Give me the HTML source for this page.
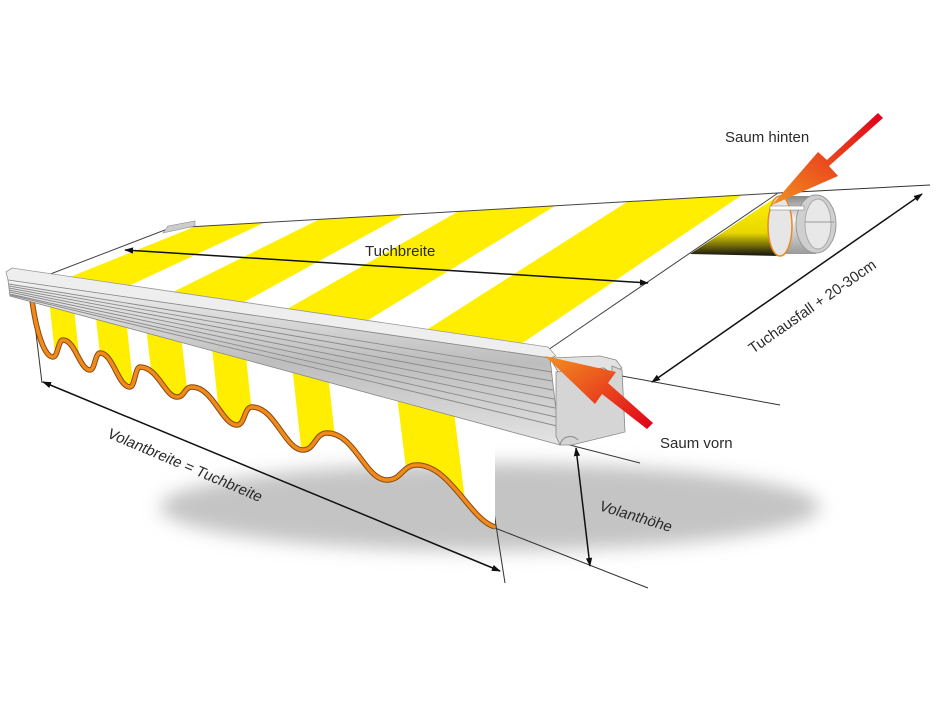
<!DOCTYPE html>
<html><head><meta charset="utf-8">
<style>
html,body{margin:0;padding:0;background:#fff;}
svg{display:block;}
text{font-family:"Liberation Sans",sans-serif;fill:#2a2a2a;}
</style></head>
<body>
<svg width="944" height="704" viewBox="0 0 944 704" xmlns="http://www.w3.org/2000/svg">
<defs>
<filter id="blur" x="-20%" y="-50%" width="140%" height="200%"><feGaussianBlur stdDeviation="9"/></filter>
<linearGradient id="red1" x1="1" y1="0" x2="0" y2="1">
<stop offset="0" stop-color="#e0001a"/><stop offset="1" stop-color="#f39020"/>
</linearGradient>
<linearGradient id="red2" x1="1" y1="1" x2="0" y2="0">
<stop offset="0" stop-color="#e0001a"/><stop offset="1" stop-color="#f39020"/>
</linearGradient>
<linearGradient id="bar" x1="0" y1="0" x2="0" y2="1">
<stop offset="0" stop-color="#f2f2f2"/><stop offset="0.5" stop-color="#bdbdbd"/><stop offset="1" stop-color="#e4e4e4"/>
</linearGradient>
<linearGradient id="roll" x1="0" y1="0" x2="0" y2="1">
<stop offset="0" stop-color="#fff000"/><stop offset="0.6" stop-color="#e8d800"/><stop offset="1" stop-color="#111"/>
</linearGradient>
<linearGradient id="cyl" x1="0" y1="0" x2="0" y2="1">
<stop offset="0" stop-color="#888"/><stop offset="0.4" stop-color="#f4f4f4"/><stop offset="1" stop-color="#999"/>
</linearGradient>
<clipPath id="cc"><polygon points="40,278 170,228 778,193 545,352"/></clipPath>
<clipPath id="vc"><path d="M30,301 L495,427 L495,527 C470,520 450,465 417,465 C402,465 402,480 387,480 C365,480 355,433 327,433 C315,433 315,450 303,450 C285,450 275,407 252,407 C244,407 245,425 237,425 C222,425 213,387 192,387 C184,387 185,397 177,397 C165,397 158,367 140,367 C135,367 135,387 130,387 C118,387 113,353 100,353 C95,353 95,370 90,370 C80,370 75,340 63,340 C58,340 58,357 53,357 C44,357 36,330 32,300 Z"/></clipPath>
<marker id="ah" viewBox="0 0 10 10" refX="9" refY="5" markerWidth="9" markerHeight="9" orient="auto-start-reverse" markerUnits="userSpaceOnUse">
<path d="M0,1.5 L10,5 L0,8.5 Z" fill="#111"/></marker>
</defs>

<!-- shadow -->
<ellipse cx="490" cy="507" rx="330" ry="44" fill="#c4c4c4" filter="url(#blur)"/>

<!-- extension / dimension thin lines -->
<g stroke="#333" stroke-width="1" fill="none">
<line x1="778" y1="193" x2="930" y2="185"/>
<line x1="600" y1="372" x2="780" y2="405"/>
<line x1="32" y1="300" x2="42" y2="383"/>
<line x1="480" y1="423" x2="505" y2="583"/>
<line x1="562" y1="443" x2="640" y2="463"/>
<line x1="495" y1="528" x2="648" y2="588"/>
</g>

<!-- canopy -->
<polygon points="40,278 170,228 778,193 545,352" fill="#fff"/>
<g clip-path="url(#cc)" fill="#ffee00">
<polygon points="60,281 120,290 266,222 194,227"/>
<polygon points="165,296 235,307 405,214 320,219"/>
<polygon points="280,313 360,325 555,206 459,211"/>
<polygon points="420,334 515,348 742,195 627,202"/>
</g>
<polygon points="40,278 170,228 778,193 545,352" fill="none" stroke="#444" stroke-width="1"/>
<polygon points="163,233 195,226 195,221 168,226" fill="#ccc" stroke="#888" stroke-width="0.6"/>

<!-- roller -->
<polygon points="690,254 775,198 782,256" fill="url(#roll)"/>
<rect x="780" y="196" width="36" height="58" fill="url(#cyl)"/>
<ellipse cx="816" cy="224" rx="20" ry="29" fill="#cfcfcf" stroke="#999" stroke-width="1"/>
<ellipse cx="818" cy="224" rx="13" ry="25" fill="#e8e8e8" stroke="#aaa" stroke-width="1"/>
<line x1="805" y1="222" x2="834" y2="222" stroke="#999"/>
<ellipse cx="780" cy="226" rx="12" ry="30" fill="#e6e6e6" stroke="#e98a20" stroke-width="1.5"/>
<rect x="770" y="206" width="34" height="4" fill="#fff" stroke="#888" stroke-width="0.6"/>

<!-- valance -->
<path d="M30,301 L495,427 L495,527 C470,520 450,465 417,465 C402,465 402,480 387,480 C365,480 355,433 327,433 C315,433 315,450 303,450 C285,450 275,407 252,407 C244,407 245,425 237,425 C222,425 213,387 192,387 C184,387 185,397 177,397 C165,397 158,367 140,367 C135,367 135,387 130,387 C118,387 113,353 100,353 C95,353 95,370 90,370 C80,370 75,340 63,340 C58,340 58,357 53,357 C44,357 36,330 32,300 Z" fill="#fff"/>
<g clip-path="url(#vc)" fill="#ffee00">
<polygon points="48,290 72,290 84,400 60,400"/>
<polygon points="93,290 123,290 137,420 107,420"/>
<polygon points="143,300 177,300 193,440 159,440"/>
<polygon points="207,300 240,300 258,470 225,470"/>
<polygon points="287,320 322,320 342,500 307,500"/>
<polygon points="390,340 445,340 470,540 415,540"/>
</g>
<path d="M32,300 C36,330 44,357 53,357 C58,357 58,340 63,340 C75,340 80,370 90,370 C95,370 95,353 100,353 C113,353 118,387 130,387 C135,387 135,367 140,367 C158,367 165,397 177,397 C185,397 184,387 192,387 C213,387 222,425 237,425 C245,425 244,407 252,407 C275,407 285,450 303,450 C315,450 315,433 327,433 C355,433 365,480 387,480 C402,480 402,465 417,465 C450,465 470,520 495,527" fill="none" stroke="#8a4a10" stroke-width="5.5"/>
<path d="M32,300 C36,330 44,357 53,357 C58,357 58,340 63,340 C75,340 80,370 90,370 C95,370 95,353 100,353 C113,353 118,387 130,387 C135,387 135,367 140,367 C158,367 165,397 177,397 C185,397 184,387 192,387 C213,387 222,425 237,425 C245,425 244,407 252,407 C275,407 285,450 303,450 C315,450 315,433 327,433 C355,433 365,480 387,480 C402,480 402,465 417,465 C450,465 470,520 495,527" fill="none" stroke="#f08a1a" stroke-width="3.5"/>

<!-- bar -->
<polygon points="6,272 12,268 548,347 556,356 550,358 8,280" fill="#eeeeee" stroke="#999" stroke-width="0.8"/>
<polygon points="8,280 550,358 560,445 10,296" fill="url(#bar)" stroke="#888" stroke-width="0.8"/>
<g stroke="#8a8a8a" stroke-width="0.9">
<line x1="9" y1="284" x2="552" y2="372"/>
<line x1="9" y1="286" x2="552" y2="381"/>
<line x1="9" y1="288" x2="553" y2="390"/>
<line x1="9" y1="290" x2="554" y2="399"/>
<line x1="10" y1="292" x2="555" y2="408"/>
<line x1="10" y1="294" x2="556" y2="417"/>
<line x1="10" y1="295" x2="557" y2="426"/>
</g>
<polygon points="550,358 600,356 616,360 622,368 612,374 604,368 558,372" fill="#e2e2e2" stroke="#888" stroke-width="0.8"/>
<polygon points="556,372 604,368 612,374 612,366 622,370 625,432 572,445 560,445 556,436" fill="#d5d5d5" stroke="#888" stroke-width="0.8"/>
<path d="M560,445 C562,436 572,434 578,440" fill="none" stroke="#888" stroke-width="1"/>

<!-- dimension arrows -->
<g stroke="#111" stroke-width="1.5" fill="none" marker-start="url(#ah)" marker-end="url(#ah)">
<line x1="125" y1="250" x2="648" y2="283"/>
<line x1="652" y1="382" x2="922" y2="194"/>
<line x1="43" y1="382" x2="500" y2="571"/>
<line x1="576" y1="448" x2="590" y2="566"/>
</g>

<!-- red arrows -->
<polygon points="883,118 878,113 827,160 818,152 772,205 838,176 829,166" fill="url(#red1)"/>
<polygon points="653,423 647,429 602,394 595,404 545,356 616,372 608,383" fill="url(#red2)"/>

<!-- labels -->
<text x="365" y="256" font-size="15">Tuchbreite</text>
<text x="725" y="142" font-size="15">Saum hinten</text>
<text x="660" y="448" font-size="15">Saum vorn</text>
<text font-size="15" transform="translate(753,354) rotate(-35)">Tuchausfall + 20-30cm</text>
<text font-size="15" transform="translate(106,437) rotate(23) skewX(-8)">Volantbreite = Tuchbreite</text>
<text font-size="15" transform="translate(598,510) rotate(17) skewX(-8)">Volanthöhe</text>
</svg>
</body></html>
